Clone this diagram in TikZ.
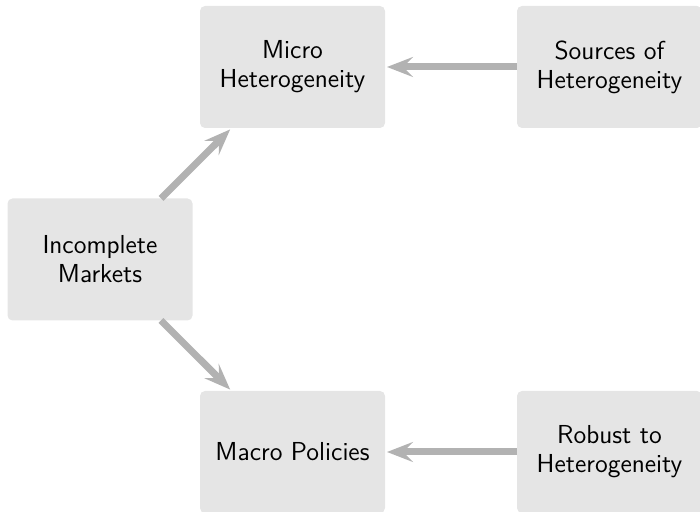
\documentclass[tikz,border=0pt]{standalone}
\usetikzlibrary{arrows.meta}
\begin{document}
\begin{tikzpicture}[x=0.5pt,y=0.5pt,
  box/.style={fill=black!10, rounded corners=2.5pt, minimum width=92.5pt, minimum height=61pt,
    inner sep=0pt, outer sep=0pt, align=center, font=\sffamily\fontsize{13}{14.5}\selectfont},
  arr/.style={draw=black!30, line width=3.5pt, shorten >=1pt,
    -{Stealth[length=13pt,width=10pt,inset=5pt]}}]
\useasboundingbox (0,0) rectangle (700,512);
\node[box] (micro) at (292.5,445) {Micro\\Heterogeneity};
\node[box] (src) at (609.5,445) {Sources of\\Heterogeneity};
\node[box] (inc) at (100,252.5) {Incomplete\\Markets};
\node[box] (macro) at (292.5,60) {Macro Policies};
\node[box] (rob) at (609.5,60) {Robust to\\Heterogeneity};
\draw[arr] (src) -- (micro);
\draw[arr] (rob) -- (macro);
\draw[arr] (inc) -- (micro);
\draw[arr] (inc) -- (macro);
\end{tikzpicture}
\end{document}
